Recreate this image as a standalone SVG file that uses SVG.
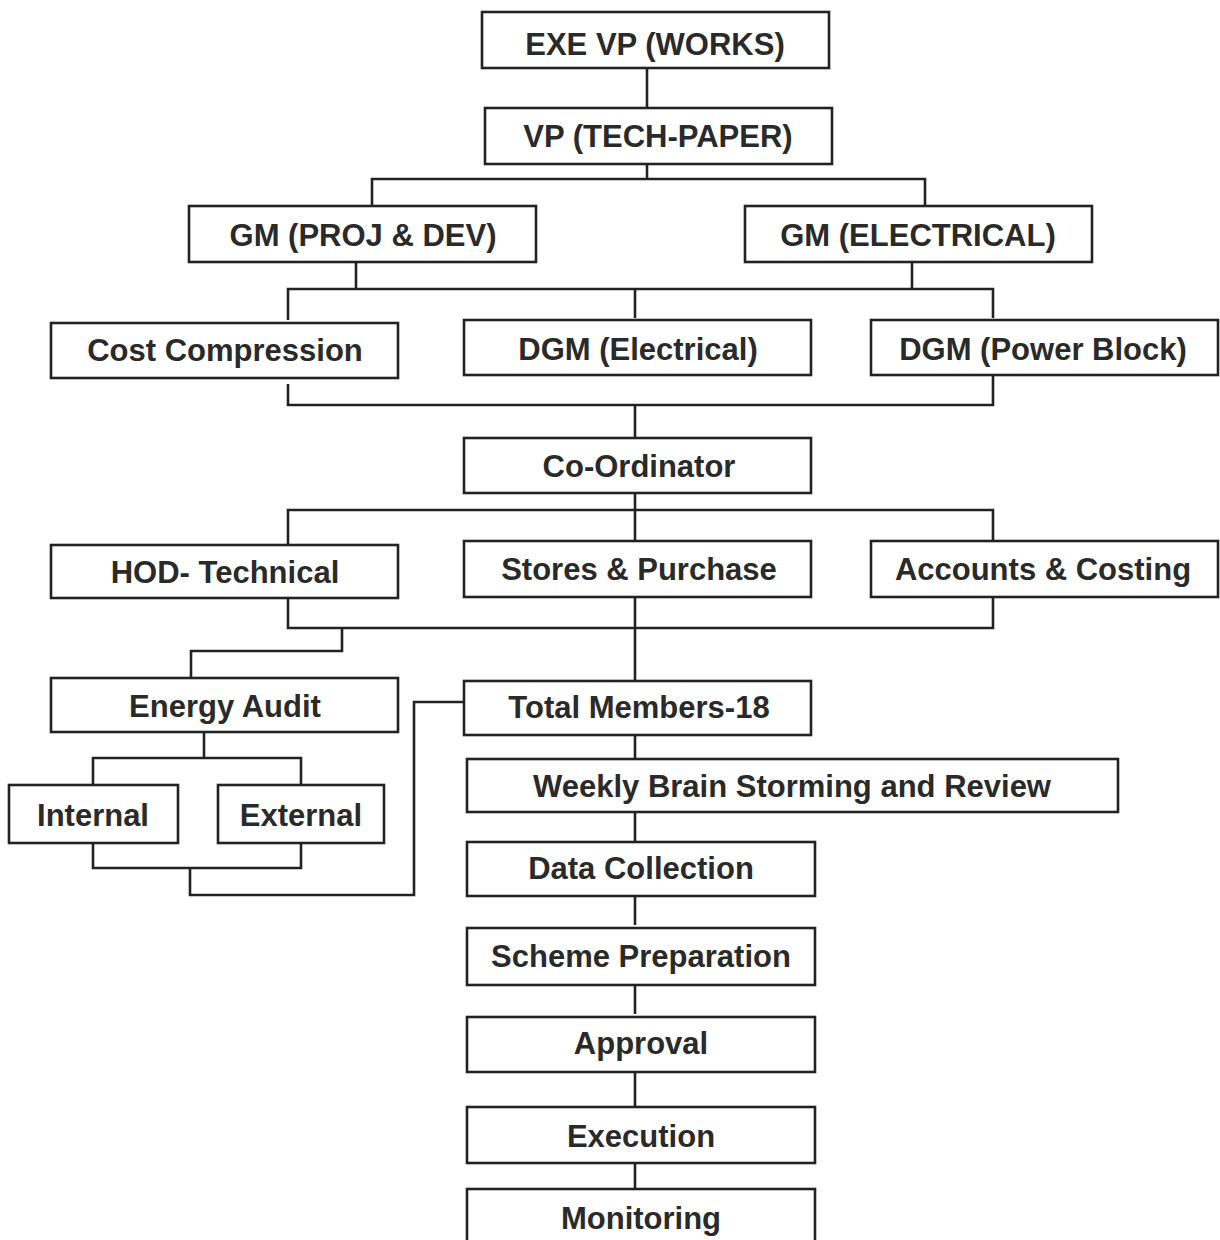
<svg xmlns="http://www.w3.org/2000/svg" width="1220" height="1240" viewBox="0 0 1220 1240">
<style>
.box{fill:#fff;stroke:#222;stroke-width:2.6}
.t{font-family:"Liberation Sans",Arial,sans-serif;font-weight:bold;font-size:31px;fill:#2a2a2a;text-anchor:middle}
.c{fill:none;stroke:#222;stroke-width:2.6}
</style>
<rect width="1220" height="1240" fill="#fff"/>
<g id="connectors">
<path class="c" d="M647 68V108"/>
<path class="c" d="M647 164V179M372 206V179H925V206"/>
<path class="c" d="M356 262V289M912 262V289M288 320V289H993V318M635 289V318"/>
<path class="c" d="M288 384V405H993V375M635 405V438"/>
<path class="c" d="M635 493V510M288 545V510H993V541M635 510V541"/>
<path class="c" d="M288 598V628H993V597M635 597V681"/>
<path class="c" d="M342 628V651H191V678"/>
<path class="c" d="M635 735V759M635 812V842M635 896V925M635 985V1014M635 1072V1107M635 1163V1189"/>
<path class="c" d="M204 732V758M93 785V758H301V785"/>
<path class="c" d="M93 843V868H301V843M190 868V895H414V702H468"/>
</g>
<g id="exe-vp"><rect class="box" x="482" y="12" width="347" height="56"/><text class="t" x="655" y="55">EXE VP (WORKS)</text></g>
<g id="vp-tech"><rect class="box" x="485" y="108" width="347" height="56"/><text class="t" x="658" y="147">VP (TECH-PAPER)</text></g>
<g id="gm-proj"><rect class="box" x="189" y="206" width="347" height="56"/><text class="t" x="363" y="246">GM (PROJ &amp; DEV)</text></g>
<g id="gm-elec"><rect class="box" x="745" y="206" width="347" height="56"/><text class="t" x="918" y="246">GM (ELECTRICAL)</text></g>
<g id="cost"><rect class="box" x="51" y="323" width="347" height="55"/><text class="t" x="225" y="361">Cost Compression</text></g>
<g id="dgm-elec"><rect class="box" x="464" y="320" width="347" height="55"/><text class="t" x="638" y="360">DGM (Electrical)</text></g>
<g id="dgm-power"><rect class="box" x="871" y="320" width="347" height="55"/><text class="t" x="1043" y="360">DGM (Power Block)</text></g>
<g id="coord"><rect class="box" x="464" y="438" width="347" height="55"/><text class="t" x="639" y="477">Co-Ordinator</text></g>
<g id="hod"><rect class="box" x="51" y="545" width="347" height="53"/><text class="t" x="225" y="583">HOD- Technical</text></g>
<g id="stores"><rect class="box" x="464" y="541" width="347" height="56"/><text class="t" x="639" y="580">Stores &amp; Purchase</text></g>
<g id="accounts"><rect class="box" x="871" y="541" width="347" height="56"/><text class="t" x="1043" y="580">Accounts &amp; Costing</text></g>
<g id="energy"><rect class="box" x="51" y="678" width="347" height="54"/><text class="t" x="225" y="717">Energy Audit</text></g>
<g id="total"><rect class="box" x="464" y="681" width="347" height="54"/><text class="t" x="639" y="718">Total Members-18</text></g>
<g id="internal"><rect class="box" x="9" y="785" width="169" height="58"/><text class="t" x="93" y="826">Internal</text></g>
<g id="external"><rect class="box" x="218" y="785" width="166" height="58"/><text class="t" x="301" y="826">External</text></g>
<g id="weekly"><rect class="box" x="467" y="759" width="651" height="53"/><text class="t" x="792" y="797">Weekly Brain Storming and Review</text></g>
<g id="data"><rect class="box" x="467" y="842" width="348" height="54"/><text class="t" x="641" y="879">Data Collection</text></g>
<g id="scheme"><rect class="box" x="467" y="928" width="348" height="57"/><text class="t" x="641" y="967">Scheme Preparation</text></g>
<g id="approval"><rect class="box" x="467" y="1017" width="348" height="55"/><text class="t" x="641" y="1054">Approval</text></g>
<g id="execution"><rect class="box" x="467" y="1107" width="348" height="56"/><text class="t" x="641" y="1147">Execution</text></g>
<g id="monitoring"><rect class="box" x="467" y="1189" width="348" height="70"/><text class="t" x="641" y="1229">Monitoring</text></g>
</svg>
